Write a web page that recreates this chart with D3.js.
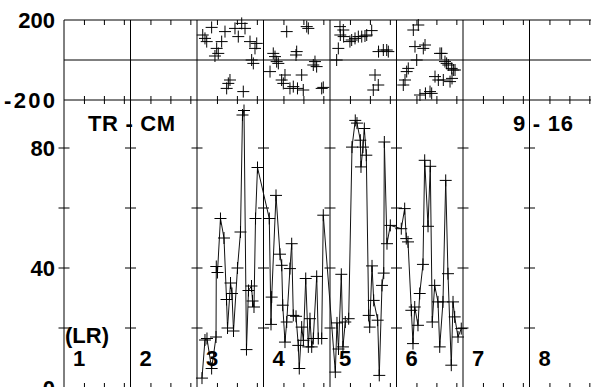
<!DOCTYPE html>
<html><head><meta charset="utf-8">
<script src="https://cdn.jsdelivr.net/npm/d3@7"></script>
<style>
html,body{margin:0;padding:0;background:#fff;overflow:hidden}
text{font-family:"Liberation Sans",Arial,sans-serif;font-weight:bold;fill:#000}
</style></head>
<body><svg id="c" width="591" height="387"></svg>
<script>
// ---- data ----
const columnLabels = ["1","2","3","4","5","6","7","8"];
const topTicks = [-200, 200];
const bottomTicks = [0, 40, 80];
const bottomMinorTicks = [20, 40, 60, 80];
const topX = [20.86,21.2,21.46,22.2,22.7,22.96,23.2,23.71,24.21,24.46,24.71,24.96,25.71,26.21,26.72,26.96,27.22,27.97,28.22,28.47,28.72,28.98,
30.98,31.47,31.73,31.98,32.23,32.73,32.98,33.23,33.49,33.98,34.48,34.89,34.99,35.11,35.74,35.98,36.5,36.74,37.49,37.74,37.99,38.75,38.99,
41.0,41.25,41.5,41.55,42.0,42.05,43.0,43.26,43.76,44.26,44.77,45.26,45.52,46.27,46.51,46.77,47.26,47.3,48.02,48.53,48.77,
51.02,51.28,51.53,51.77,52.53,52.78,53.04,53.28,53.53,54.03,54.29,54.35,55.04,55.29,55.79,56.29,56.54,56.79,57.04,57.29,57.54,57.79,58.05,58.3,58.35,58.55,58.8];
const topY = [125,108,92,163,20,58,33,92,142,-142,-117,-100,158,117,183,-158,158,92,0,-17,58,83,
-58,33,17,-8,-17,-100,-117,-75,142,-142,-133,25,42,-142,-75,-150,167,158,-25,-8,-33,-142,-137,
0,58,167,125,150,117,92,100,108,117,117,120,125,147,-150,-75,-125,42,50,50,42,
-125,-100,-58,-42,150,67,0,175,-175,58,75,-167,-158,-167,-83,-100,33,33,-100,-8,-17,-25,-108,-42,-92,-50,-50];
const botX = [20.75,21.2,21.5,22.2,22.86,22.9,23.08,23.53,24.06,24.44,24.59,25.04,25.26,25.49,26.09,26.54,26.84,27.07,27.44,27.74,28.2,28.35,28.57,28.8,29.1,
30.87,31.13,31.23,31.88,32.48,32.74,32.89,33.23,33.49,33.98,34.24,34.48,34.89,35.23,35.38,35.74,36.0,36.35,36.74,36.99,37.25,37.49,38.0,38.24,38.75,38.99,
40.8,41.05,41.28,41.7,41.95,42.3,42.81,43.31,43.8,44.06,44.56,44.66,44.96,45.16,45.46,45.82,45.97,46.32,46.57,47.17,47.41,47.82,48.08,48.17,48.57,49.07,
50.72,51.23,51.47,51.73,52.23,52.48,52.74,53.23,53.49,53.98,54.24,54.74,55.08,55.38,55.74,56.24,56.5,56.99,57.4,57.74,58.24,58.5,58.75,59.25,59.74];
const botY = [3.3,16,16.5,6.5,17,40.5,38.5,56.5,50,29.5,20,35,31.5,19,40,52,91,92.5,12.8,32.5,34,29,27,56.5,73.5,
56.5,21.2,30.3,64.2,44.6,40.9,27.6,15.3,22,39.8,48.1,24.2,23.9,14.2,6.5,20.3,15.9,36.5,13.7,23.1,13.7,16.5,37.2,16.5,16.5,57.6,
5.3,21.7,13,37.9,13.7,22,23.1,80.3,89.2,88.3,82.6,73.7,80.3,86.5,77.6,24.2,20.3,40.7,29.2,22.6,4.2,34.2,38.3,82,48.1,54.2,
53.1,59.8,49.8,48.7,25.9,14.8,27,20.9,31.5,41.2,75.9,53.9,73.9,22,34.2,28.7,13.7,28.7,69.2,38.1,7.6,28.7,23.7,17,19.8];

// ---- layout ----
const svg = d3.select("#c");
const x = d3.scaleLinear().domain([0, 80]).range([64, 596]);
const yT = d3.scaleLinear().domain([-200, 200]).range([100, 20]);
const yB = d3.scaleLinear().domain([0, 96]).range([388, 100]);
const colStarts = d3.range(0, 80, 10);
const innerTicks = colStarts.flatMap(c => [c + 3, c + 6, c + 9]);
const L = "#000";

// frame lines
svg.append("line").attr("x1", x(0)).attr("x2", 600).attr("y1", yT(200)).attr("y2", yT(200)).attr("stroke", L);
svg.append("line").attr("x1", x(0)).attr("x2", 600).attr("y1", yT(0)).attr("y2", yT(0)).attr("stroke", L);
svg.append("line").attr("x1", x(0)).attr("x2", 600).attr("y1", yT(-200)).attr("y2", yT(-200)).attr("stroke", L);
svg.append("line").attr("x1", x(0)).attr("x2", 600).attr("y1", yB(0)).attr("y2", yB(0)).attr("stroke", L);
svg.selectAll("line.col").data(colStarts).join("line").attr("class", "col")
  .attr("x1", d => x(d)).attr("x2", d => x(d)).attr("y1", yT(200)).attr("y2", yB(0)).attr("stroke", L);

// x inner ticks via axes
function tickAxis(axis, y) {
  const g = svg.append("g").attr("transform", `translate(0,${y})`).call(axis);
  g.select(".domain").remove();
  g.selectAll("line").attr("stroke", L);
}
tickAxis(d3.axisBottom(x).tickValues(innerTicks).tickSize(5).tickFormat(""), yT(200));
tickAxis(d3.axisBottom(x).tickValues(innerTicks).tickSize(4).tickFormat(""), yT(-200));
tickAxis(d3.axisTop(x).tickValues(innerTicks).tickSize(4).tickFormat(""), yT(-200));
tickAxis(d3.axisTop(x).tickValues(innerTicks).tickSize(5).tickFormat(""), yB(0));

// y ticks crossing each column line in bottom panel
colStarts.forEach(c => {
  svg.append("g").selectAll("line").data(bottomMinorTicks).join("line")
    .attr("x1", x(c) - 5.5).attr("x2", x(c) + 5.5)
    .attr("y1", d => yB(d)).attr("y2", d => yB(d)).attr("stroke", L);
});

// y labels
function labelAxis(axis) {
  const g = svg.append("g").attr("transform", `translate(${x(0)},0)`).call(axis);
  g.select(".domain").remove();
  g.selectAll("line").remove();
  g.selectAll("text").attr("font-size", 22).attr("font-family", "Liberation Sans, Arial, sans-serif").attr("font-weight", "bold").attr("fill", "#000");
  return g;
}
const gTop = labelAxis(d3.axisLeft(yT).tickValues(topTicks).tickSize(0).tickPadding(9).tickFormat(d => String(d)));
gTop.selectAll("text").filter(d => d < 0).attr("textLength", 51).attr("lengthAdjust", "spacing");
labelAxis(d3.axisLeft(yB).tickValues(bottomTicks).tickSize(0).tickPadding(9).tickFormat(d => String(d)));

// bottom series line + crosses
const line = d3.line().x(d => x(d[0])).y(d => yB(d[1]));
const botData = botX.map((v, i) => [v, botY[i]]);
svg.append("path").datum(botData).attr("d", line).attr("fill", "none").attr("stroke", "#111").attr("stroke-width", 1);
function crosses(data, ys) {
  svg.append("g").selectAll("path").data(data).join("path")
    .attr("d", d => { const px = x(d[0]), py = ys(d[1]); return `M${px-6},${py}H${px+6}M${px},${py-6}V${py+6}`; })
    .attr("stroke", L).attr("stroke-width", 1).attr("fill", "none");
}
crosses(botData, yB);
const topData = topX.map((v, i) => [v, topY[i]]);
crosses(topData, yT);

// text labels
svg.append("text").attr("x", 88).attr("y", 131).attr("font-size", 22).attr("textLength", 87).text("TR - CM");
svg.append("text").attr("x", 513).attr("y", 131).attr("font-size", 22).attr("textLength", 60).text("9 - 16");
svg.append("text").attr("x", 65).attr("y", 343).attr("font-size", 22).text("(LR)");
svg.selectAll("text.col").data(columnLabels).join("text").attr("class", "col")
  .attr("x", (d, i) => x(colStarts[i]) + 9).attr("y", 366).attr("font-size", 22).text(d => d);
</script></body></html>
